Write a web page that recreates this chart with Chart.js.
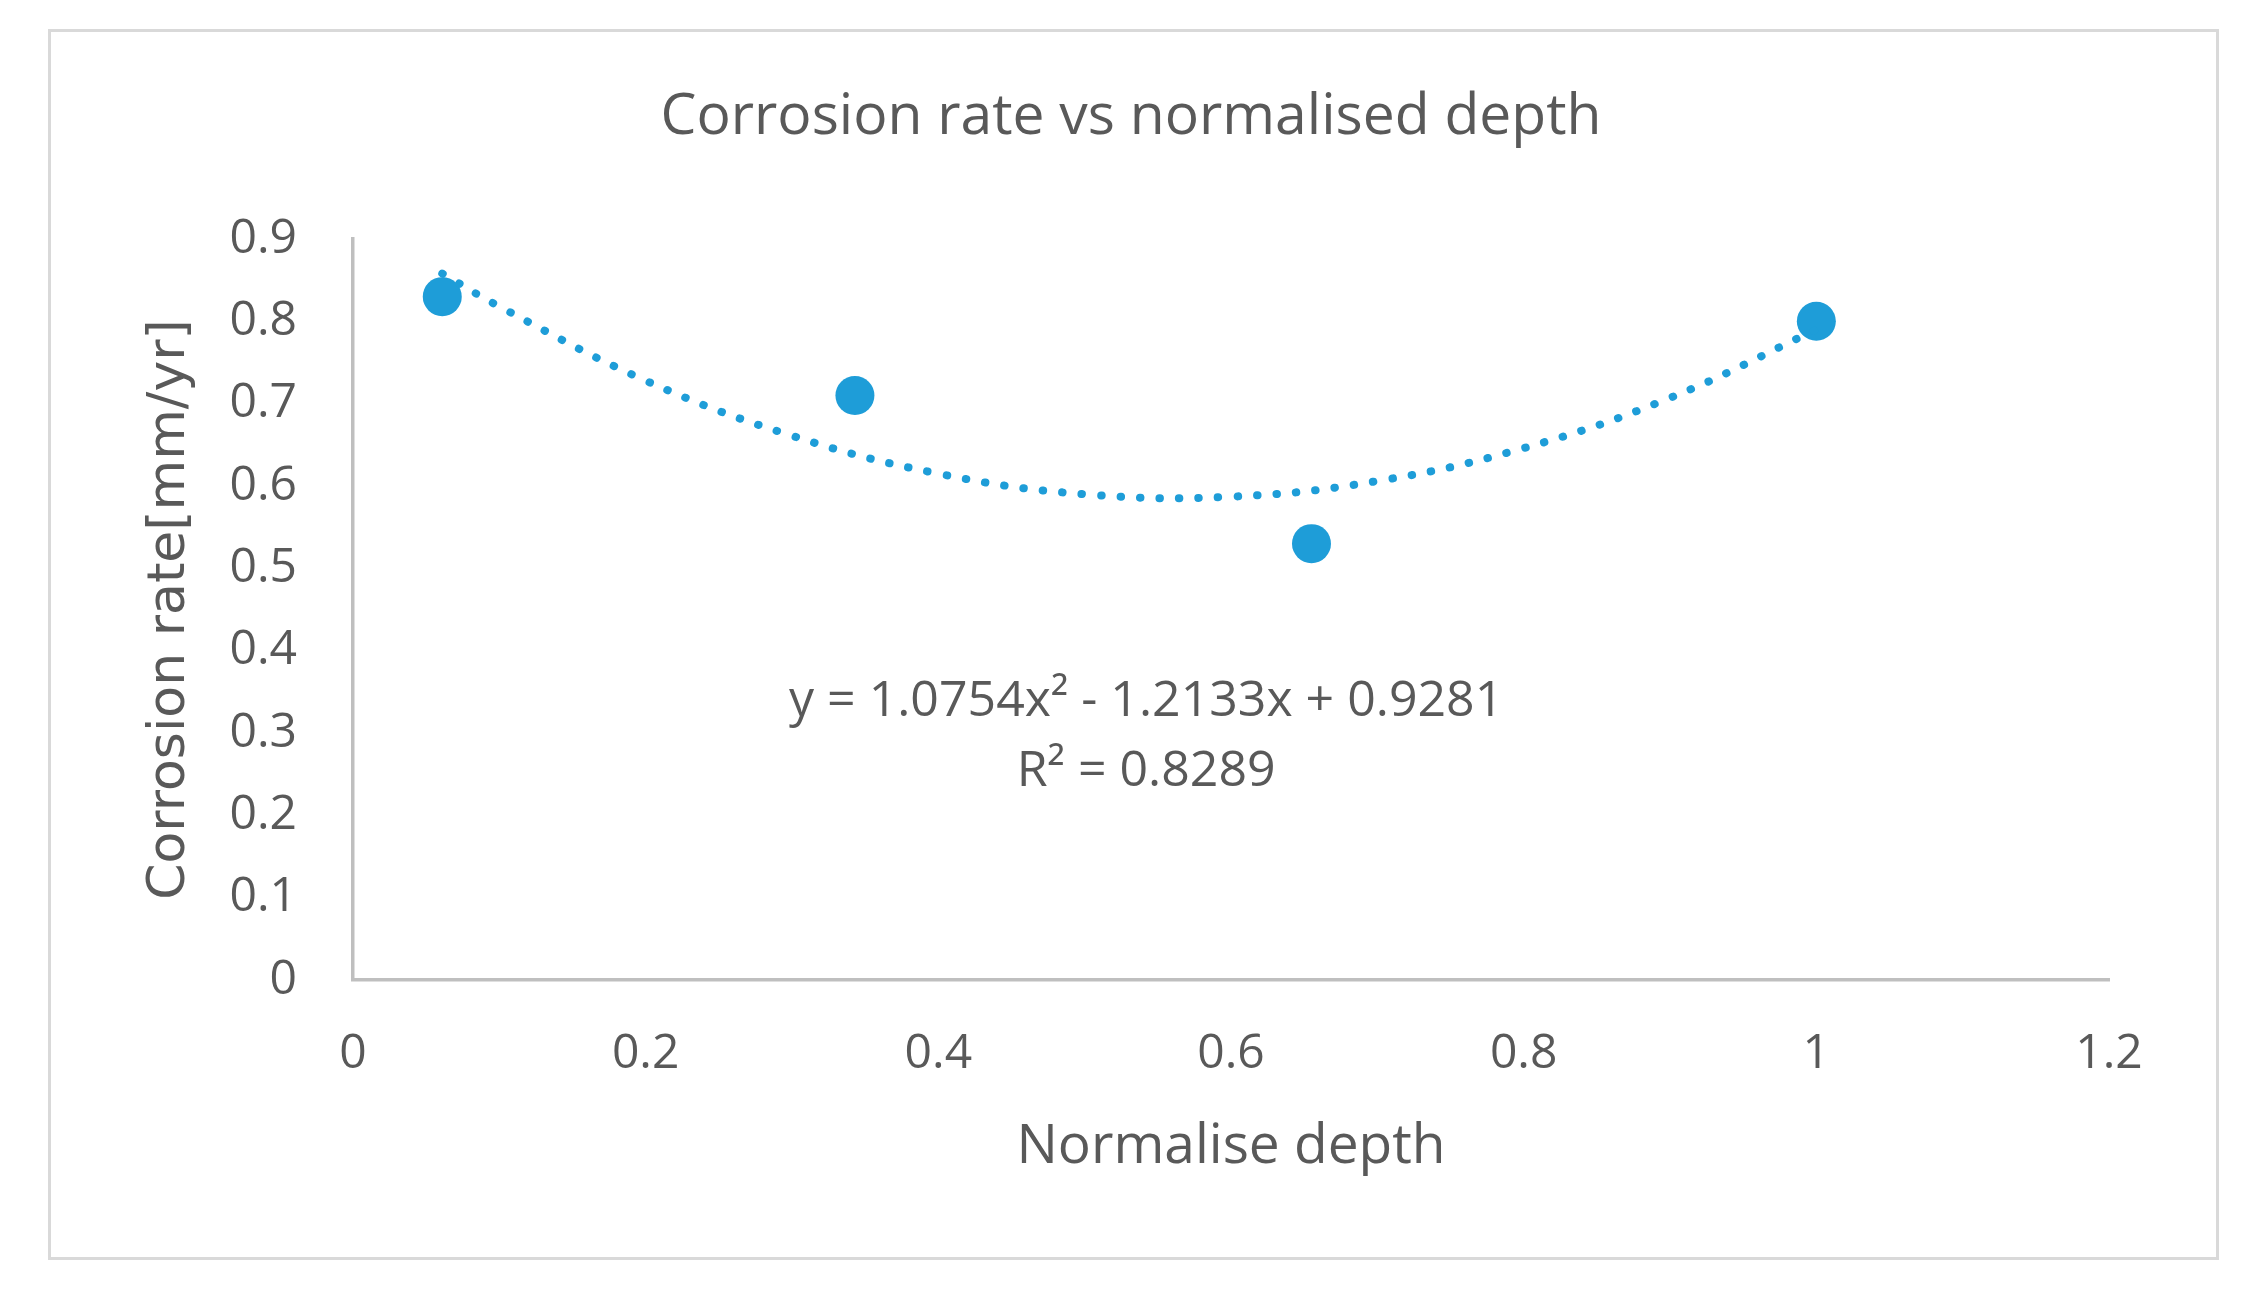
<!DOCTYPE html>
<html>
<head>
<meta charset="utf-8">
<script src="https://cdn.jsdelivr.net/npm/chart.js@4/dist/chart.umd.min.js"></script>
<style>
  html, body { margin: 0; padding: 0; background: #fff; }
  #frame {
    position: absolute; left: 48px; top: 29px; width: 2171px; height: 1231px;
    box-sizing: border-box; border: 3px solid #d9d9d9; pointer-events: none;
  }
  #chart { position: absolute; left: 0; top: 0; }
</style>
</head>
<body>
<canvas id="chart" width="2264" height="1293"></canvas>
<div id="frame"></div>
<script>
// measured points
const depth = [0.061, 0.343, 0.655, 1.0];
const rate = [0.83, 0.71, 0.53, 0.80];

// dotted trendline
const trendX = [0.061, 0.1, 0.2, 0.3, 0.4, 0.5, 0.6, 0.7, 0.8, 0.9, 1.0];
const trendY = [0.858, 0.818, 0.728, 0.661, 0.615, 0.590, 0.587, 0.606, 0.646, 0.707, 0.790];

const xTicks = [0, 0.2, 0.4, 0.6, 0.8, 1, 1.2];
const xTickLabels = ['0', '0.2', '0.4', '0.6', '0.8', '1', '1.2'];
const yTicks = [0, 0.1, 0.2, 0.3, 0.4, 0.5, 0.6, 0.7, 0.8, 0.9];
const yTickLabels = ['0', '0.1', '0.2', '0.3', '0.4', '0.5', '0.6', '0.7', '0.8', '0.9'];

const equationText = ['y = 1.0754x\u00b2 - 1.2133x + 0.9281', 'R\u00b2 = 0.8289'];

const blue = '#1e9dd8';
const textColor = '#595959';
const axisColor = '#bfbfbf';

// trendline equation label
const equationLabel = {
  id: 'equationLabel',
  afterDatasetsDraw(chart) {
    const ctx = chart.ctx;
    const xs = chart.scales.x, ys = chart.scales.y;
    ctx.save();
    ctx.fillStyle = textColor;
    ctx.font = '50px "Open Sans"';
    ctx.textAlign = 'center';
    ctx.textBaseline = 'middle';
    ctx.fillText(equationText[0], xs.getPixelForValue(0.542), ys.getPixelForValue(0.338));
    ctx.fillText(equationText[1], xs.getPixelForValue(0.542), ys.getPixelForValue(0.2525));
    ctx.restore();
  }
};

const ctx = document.getElementById('chart').getContext('2d');
new Chart(ctx, {
  type: 'scatter',
  data: {
    datasets: [
      {
        label: 'Trend',
        type: 'line',
        data: trendX.map((x, i) => ({ x: x, y: trendY[i] })),
        borderColor: blue,
        borderWidth: 8,
        borderDash: [0.5, 19],
        borderCapStyle: 'round',
        pointRadius: 0,
        tension: 0.4,
        fill: false,
        order: 0
      },
      {
        label: 'Corrosion rate',
        data: depth.map((x, i) => ({ x: x, y: rate[i] })),
        backgroundColor: blue,
        borderColor: blue,
        borderWidth: 0,
        pointRadius: 19.5,
        order: 1
      }
    ]
  },
  options: {
    responsive: false,
    devicePixelRatio: 1,
    animation: false,
    layout: { padding: { left: 153, right: 155, top: 0, bottom: 113 } },
    plugins: {
      legend: { display: false },
      tooltip: { enabled: false },
      title: {
        display: true,
        text: 'Corrosion rate vs normalised depth',
        color: textColor,
        font: { family: 'Open Sans', size: 57, weight: 'normal' },
        padding: { top: 84, bottom: 86.6 }
      }
    },
    scales: {
      x: {
        type: 'linear',
        min: 0,
        max: 1.2,
        afterBuildTicks: s => { s.ticks = xTicks.map(v => ({ value: v })); },
        afterFit: s => { s.height = 200; },
        ticks: {
          callback: (v, i) => xTickLabels[i],
          color: textColor,
          font: { family: 'Open Sans', size: 48 },
          padding: 46,
          maxRotation: 0
        },
        grid: { display: false, drawTicks: false },
        border: { display: true, color: axisColor, width: 3.5 },
        title: {
          display: true,
          text: 'Normalise depth',
          color: textColor,
          font: { family: 'Open Sans', size: 55 },
          padding: { top: 0, bottom: 0 }
        }
      },
      y: {
        type: 'linear',
        min: 0,
        max: 0.9,
        afterBuildTicks: s => { s.ticks = yTicks.map(v => ({ value: v })); },
        afterFit: s => { s.width = 200; },
        ticks: {
          callback: (v, i) => yTickLabels[i],
          color: textColor,
          font: { family: 'Open Sans', size: 48 },
          padding: 56
        },
        grid: { display: false, drawTicks: false },
        border: { display: true, color: axisColor, width: 3.5 },
        title: {
          display: true,
          text: 'Corrosion rate[mm/yr]',
          color: textColor,
          font: { family: 'DejaVu Sans', size: 52 },
          padding: { top: -14, bottom: 0 }
        }
      }
    }
  },
  plugins: [equationLabel]
});
</script>
</body>
</html>
